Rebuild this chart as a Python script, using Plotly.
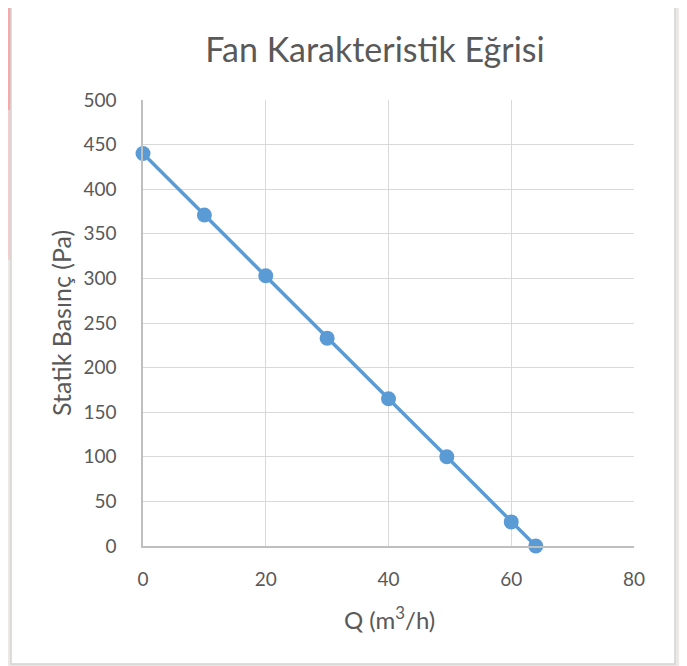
import plotly.graph_objects as go

q_values = [0, 10, 20, 30, 40, 49.5, 60, 64]
pressure_values = [440, 371, 303, 233, 165, 100, 27, 0]
x_ticks = [0, 20, 40, 60, 80]
y_ticks = [0, 50, 100, 150, 200, 250, 300, 350, 400, 450, 500]

title_text = "Fan Karakteristik Eğrisi"
x_title = "Q (m<sup>3</sup>/h)"
y_title = "Statik Basınç (Pa)"

OFF = 8  # page offset of the figure in the browser
W, H = 687 - OFF, 666 - OFF
# plot area in page coordinates: x 143..634, y 100..546
L, T = 143 - OFF, 100 - OFF
pw, ph = 491, 446
R = W - L - pw
B = H - T - ph

def px(x):
    return (x - OFF - L) / pw

def py(y):
    return (T + ph - (y - OFF)) / ph

txt = "#595959"
font = "Lato, 'Open Sans', sans-serif"

fig = go.Figure()
fig.add_trace(go.Scatter(
    x=q_values, y=pressure_values, mode="lines+markers",
    line=dict(color="#5b9bd5", width=3.5),
    marker=dict(color="#5b9bd5", size=15),
    showlegend=False, cliponaxis=False,
))

fig.update_layout(
    width=W, height=H,
    margin=dict(l=L, r=R, t=T, b=B),
    paper_bgcolor="#ebe8e7",
    plot_bgcolor="white",
    font=dict(family=font, color=txt),
    title=dict(text=title_text, x=(375 - OFF) / W, xref="container", xanchor="center",
               y=1 - (50 - OFF) / H, yref="container", yanchor="middle",
               font=dict(size=34, color=txt, family=font)),
    shapes=[
        dict(type="rect", xref="paper", yref="paper", layer="below",
             x0=px(0), x1=px(11), y0=py(110), y1=py(0),
             fillcolor="#f6a9a9", line=dict(width=0)),
        dict(type="rect", xref="paper", yref="paper", layer="below",
             x0=px(0), x1=px(11), y0=py(260), y1=py(110),
             fillcolor="#f2cfcf", line=dict(width=0)),
        dict(type="rect", xref="paper", yref="paper", layer="below",
             x0=px(11), x1=px(675), y0=py(664), y1=py(2),
             fillcolor="white", line=dict(color="#d4d4d4", width=1.5)),
    ],
    annotations=[
        dict(text=y_title, xref="paper", yref="paper", x=px(61), y=0.5,
             textangle=-90, showarrow=False, xanchor="center", yanchor="middle",
             font=dict(size=25, color=txt, family=font)),
        dict(text=x_title, xref="paper", yref="paper", x=px(389), y=py(618),
             showarrow=False, xanchor="center", yanchor="middle",
             font=dict(size=24, color=txt, family=font)),
    ],
)

fig.update_xaxes(range=[0, 80], tickvals=x_ticks, showgrid=True, gridcolor="#d9d9d9",
                 gridwidth=1, zeroline=False, showline=True, linecolor="#bfbfbf", linewidth=1.5,
                 tickfont=dict(size=19, color=txt, family=font), ticks="",
                 ticklabelstandoff=15)
fig.update_yaxes(range=[0, 500], tickvals=y_ticks, showgrid=True, gridcolor="#d9d9d9",
                 gridwidth=1, zeroline=False, showline=True, linecolor="#bfbfbf", linewidth=1.5,
                 tickfont=dict(size=19, color=txt, family=font), ticks="",
                 ticklabelstandoff=21)

fig.write_html("out.html")
